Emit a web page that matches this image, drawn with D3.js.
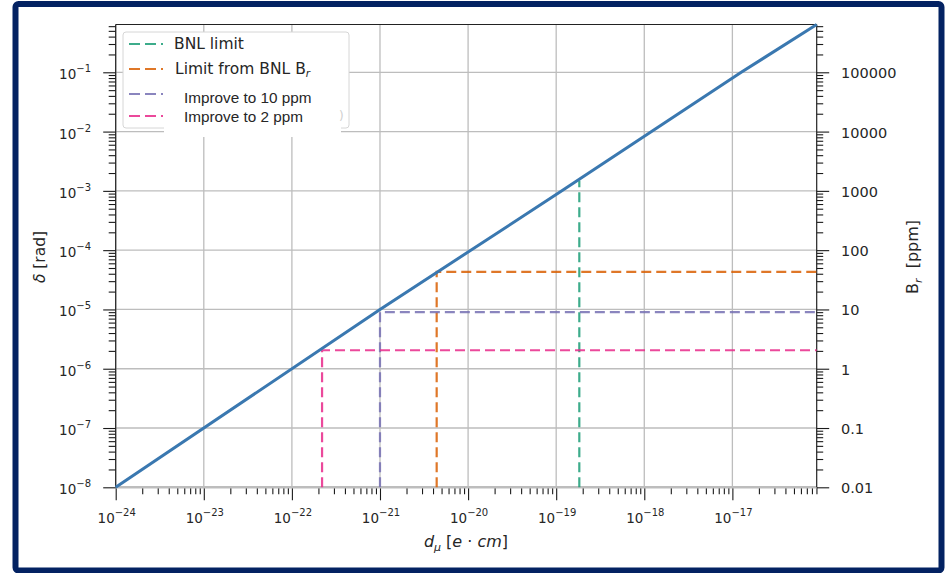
<!DOCTYPE html>
<html>
<head>
<meta charset="utf-8">
<script src="https://cdn.jsdelivr.net/npm/d3@7"></script>
<style>
  body { margin: 0; background: #fff; }
  svg text { font-family: "DejaVu Sans", sans-serif; fill: #262626; }
</style>
</head>
<body>
<div id="chart"></div>
<script>
// blue curve: delta vs d_mu
var curveD = [1e-24, 1e-21, 1.16e-19, 1.26e-17, 9.06e-17];
var curveDelta = [1e-8, 1e-5, 1e-3, 1e-1, 0.64];

// dashed limit lines
var limitNames = ["BNL limit", "Limit from BNL B", "Improve to 10 ppm", "Improve to 2 ppm"];
var limitD = [1.83e-19, 4.4e-21, 1e-21, 2.2e-22];
var limitDelta = [1.5e-3, 4.3e-5, 9e-6, 2.05e-6];
var limitHoriz = [false, true, true, true];
var limitColors = ["#1b9e77", "#d95f02", "#7570b3", "#e7298a"];

// tick labels
var xExp = [-24, -23, -22, -21, -20, -19, -18, -17];
var yExp = [-8, -7, -6, -5, -4, -3, -2, -1];
var rightLabels = ["0.01", "0.1", "1", "10", "100", "1000", "10000", "100000"];

var W = 946, H = 573;
var plot = {left: 115.7, right: 816.7, top: 24.5, bottom: 487.3};

var svg = d3.select("#chart").append("svg")
  .attr("width", W).attr("height", H);

// frame
svg.append("rect")
  .attr("x", 15.5).attr("y", 4).attr("width", 926).attr("height", 566.5)
  .attr("rx", 3)
  .attr("fill", "#fff")
  .attr("stroke", "#032262")
  .attr("stroke-width", 6);

var x = d3.scaleLog().domain([1e-24, 9.06e-17]).range([plot.left, plot.right]);
var y = d3.scaleLog().domain([1e-8, 0.64]).range([plot.bottom, plot.top]);
var yR = d3.scaleLog().domain([1e-2, 6.4e5]).range([plot.bottom, plot.top]);

var xMajor = xExp.map(function(e) { return Math.pow(10, e); });
var yMajor = yExp.map(function(e) { return Math.pow(10, e); });
var yRMajor = rightLabels.map(Number);

var minors = function(scale) {
  var out = [];
  var dom = scale.domain();
  var lo = Math.floor(Math.log10(dom[0])), hi = Math.ceil(Math.log10(dom[1]));
  for (var e = lo; e < hi; e++) {
    for (var k = 2; k < 10; k++) {
      var v = k * Math.pow(10, e);
      if (v > dom[0] && v < dom[1]) out.push(v);
    }
  }
  return out;
};

// grid
var grid = svg.append("g").attr("class", "grid");
grid.selectAll("line.gx").data(xMajor).enter().append("line")
  .attr("x1", function(d) { return x(d); }).attr("x2", function(d) { return x(d); })
  .attr("y1", plot.top).attr("y2", plot.bottom)
  .attr("stroke", "#bdbdbd").attr("stroke-width", 1.3);
grid.selectAll("line.gy").data(yMajor).enter().append("line")
  .attr("x1", plot.left).attr("x2", plot.right)
  .attr("y1", function(d) { return y(d); }).attr("y2", function(d) { return y(d); })
  .attr("stroke", "#bdbdbd").attr("stroke-width", 1.3);

// axes (ticks only, labels drawn separately)
var styleAxis = function(g) {
  g.select(".domain").remove();
  g.selectAll(".tick line").attr("stroke", "#1a1a1a").attr("stroke-width", 1.1);
};

svg.append("g").attr("transform", "translate(0," + plot.bottom + ")")
  .call(d3.axisBottom(x).tickValues(xMajor).tickSize(13).tickFormat(""))
  .call(styleAxis);
svg.append("g").attr("transform", "translate(0," + plot.bottom + ")")
  .call(d3.axisBottom(x).tickValues(minors(x)).tickSize(7).tickFormat(""))
  .call(styleAxis);
svg.append("g").attr("transform", "translate(" + plot.left + ",0)")
  .call(d3.axisLeft(y).tickValues(yMajor).tickSize(12.5).tickFormat(""))
  .call(styleAxis);
svg.append("g").attr("transform", "translate(" + plot.left + ",0)")
  .call(d3.axisLeft(y).tickValues(minors(y)).tickSize(7).tickFormat(""))
  .call(styleAxis);
svg.append("g").attr("transform", "translate(" + plot.right + ",0)")
  .call(d3.axisRight(yR).tickValues(yRMajor).tickSize(12.5).tickFormat(""))
  .call(styleAxis);
svg.append("g").attr("transform", "translate(" + plot.right + ",0)")
  .call(d3.axisRight(yR).tickValues(minors(yR)).tickSize(6.5).tickFormat(""))
  .call(styleAxis);

// spines
svg.append("line").attr("x1", plot.left).attr("x2", plot.right).attr("y1", plot.bottom).attr("y2", plot.bottom)
  .attr("stroke", "#bdbdbd").attr("stroke-width", 2.5);
svg.append("line").attr("x1", plot.left).attr("x2", plot.right).attr("y1", plot.top).attr("y2", plot.top)
  .attr("stroke", "#222").attr("stroke-width", 1.2);
svg.append("line").attr("x1", plot.left).attr("x2", plot.left).attr("y1", plot.top).attr("y2", plot.bottom)
  .attr("stroke", "#222").attr("stroke-width", 1.2);
svg.append("line").attr("x1", plot.right).attr("x2", plot.right).attr("y1", plot.top).attr("y2", plot.bottom)
  .attr("stroke", "#222").attr("stroke-width", 1.2);

// tick labels: bottom
xExp.forEach(function(e) {
  var t = svg.append("text")
    .attr("x", x(Math.pow(10, e)) + 1).attr("y", 523)
    .attr("text-anchor", "middle").attr("font-size", 13.5);
  t.append("tspan").text("10");
  t.append("tspan").attr("dy", -7).attr("font-size", 10).text("\u2212" + Math.abs(e));
});

// tick labels: left
yExp.forEach(function(e) {
  var t = svg.append("text")
    .attr("x", 91).attr("y", y(Math.pow(10, e)) + 7)
    .attr("text-anchor", "end").attr("font-size", 13.5);
  t.append("tspan").text("10");
  t.append("tspan").attr("dy", -7).attr("font-size", 10).text("\u2212" + Math.abs(e));
});

// tick labels: right
svg.selectAll("text.rl").data(rightLabels).enter().append("text")
  .attr("x", 841).attr("y", function(d) { return yR(+d) + 6; })
  .attr("font-size", 14.5)
  .text(function(d) { return d; });

// axis titles
var xl = svg.append("text")
  .attr("x", 466).attr("y", 547).attr("text-anchor", "middle").attr("font-size", 16);
xl.append("tspan").attr("font-style", "italic").text("d");
xl.append("tspan").attr("font-style", "italic").attr("font-size", 11).attr("dy", 4).text("\u03bc");
xl.append("tspan").attr("dy", -4).text(" [");
xl.append("tspan").attr("font-style", "italic").text("e");
xl.append("tspan").text(" \u00b7 ");
xl.append("tspan").attr("font-style", "italic").text("cm");
xl.append("tspan").text("]");

var yl = svg.append("text")
  .attr("transform", "translate(45,257) rotate(-90)")
  .attr("text-anchor", "middle").attr("font-size", 15.5);
yl.append("tspan").attr("font-style", "italic").text("\u03b4");
yl.append("tspan").text(" [rad]");

var yr = svg.append("text")
  .attr("transform", "translate(918,257) rotate(-90)")
  .attr("text-anchor", "middle").attr("font-size", 16);
yr.append("tspan").text("B");
yr.append("tspan").attr("font-size", 11).attr("font-style", "italic").attr("dy", 4).text("r");
yr.append("tspan").attr("dy", -4).text("\u00a0 [ppm]");

// dashed limit lines
limitD.forEach(function(d, i) {
  var pts = [[x(d), plot.bottom], [x(d), y(limitDelta[i])]];
  if (limitHoriz[i]) pts.push([plot.right, y(limitDelta[i])]);
  svg.append("path")
    .attr("d", d3.line()(pts))
    .attr("fill", "none")
    .attr("stroke", limitColors[i])
    .attr("stroke-opacity", 0.85)
    .attr("stroke-width", 2.2)
    .attr("stroke-dasharray", "10,5");
});

// main curve
svg.append("path")
  .datum(curveD.map(function(d, i) { return [d, curveDelta[i]]; }))
  .attr("d", d3.line().x(function(d) { return x(d[0]); }).y(function(d) { return y(d[1]); }))
  .attr("fill", "none")
  .attr("stroke", "#3a78b0")
  .attr("stroke-width", 3);

// legend
var lg = svg.append("g");
lg.append("rect")
  .attr("x", 123).attr("y", 32).attr("width", 226).attr("height", 96)
  .attr("rx", 3).attr("fill", "#fff").attr("stroke", "#d6d6d6").attr("stroke-width", 1);
var handleY = [44, 69, 94, 116];
var textY = [49, 74, 103, 122];
var textX = [174, 175, 184, 184];
limitNames.forEach(function(name, i) {
  lg.append("line")
    .attr("x1", 129).attr("x2", 163)
    .attr("y1", handleY[i]).attr("y2", handleY[i])
    .attr("stroke", limitColors[i]).attr("stroke-opacity", 0.85).attr("stroke-width", 2.2)
    .attr("stroke-dasharray", "11,5");
});
// white patch over the lower part of the legend
lg.append("rect")
  .attr("x", 164).attr("y", 82).attr("width", 177).attr("height", 55)
  .attr("fill", "#fff");
lg.append("text").attr("x", 339).attr("y", 120).attr("font-size", 12)
  .style("fill", "#cfcfcf").text(")");
limitNames.forEach(function(name, i) {
  var t = lg.append("text")
    .attr("x", textX[i]).attr("y", textY[i])
    .attr("font-size", 15.5);
  if (i >= 2) t.style("font-family", "'Liberation Sans', Arial, sans-serif").attr("font-size", 15.3);
  t.append("tspan").text(name);
  if (i === 1) {
    t.append("tspan").attr("font-style", "italic").attr("font-size", 10.5).attr("dy", 3).text("r");
  }
});
</script>
</body>
</html>
